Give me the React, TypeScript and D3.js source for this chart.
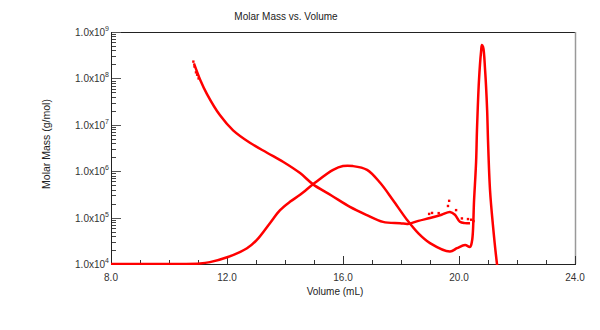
import React from "react";
import * as d3 from "d3";

// Molar mass (light scattering) vs. volume
const mmVolume = [10.86, 11.07, 11.31, 11.76, 12.21, 12.79, 13.38, 13.93, 14.52, 14.97, 15.6, 16.24, 16.8, 17.38, 17.97, 18.24, 18.6, 19.0, 19.4, 19.69, 19.86, 20.03, 20.2, 20.38];
const mmMass = [2.1e8, 9.5e7, 4.6e7, 1.6e7, 7.6e6, 4.1e6, 2.5e6, 1.6e6, 9.1e5, 5.2e5, 3.0e5, 1.7e5, 1.15e5, 8.1e4, 7.6e4, 7.3e4, 8.5e4, 9.8e4, 1.15e5, 1.32e5, 1.15e5, 8.1e4, 7.6e4, 7.6e4];

// scattered outlier points of the molar mass trace
const scatterVolume = [10.84, 10.88, 10.93, 10.97, 11.02, 18.97, 19.07, 19.3, 19.62, 19.66, 19.9, 20.1, 20.31, 20.42, 20.5];
const scatterMass = [2.3e8, 1.8e8, 1.35e8, 1.2e8, 1.0e8, 1.2e5, 1.26e5, 1.25e5, 1.78e5, 2.3e5, 1.45e5, 9.6e4, 9.3e4, 9.0e4, 8.4e4];

// detector trace, drawn on the same axes
const detVolume = [8.0, 10.4, 11.07, 11.41, 12.03, 12.69, 13.03, 13.48, 13.83, 14.17, 14.52, 15.03, 15.66, 16.0, 16.34, 16.83, 17.28, 17.72, 18.21, 18.6, 19.0, 19.69, 19.93, 20.21, 20.38, 20.45, 20.52, 20.59, 20.62, 20.69, 20.76, 20.79, 20.83, 20.9, 20.97, 21.0, 21.07, 21.17, 21.31, 21.4];
const detLog = [4.0, 4.0, 4.01, 4.04, 4.15, 4.34, 4.52, 4.88, 5.16, 5.34, 5.49, 5.75, 6.03, 6.11, 6.11, 6.03, 5.75, 5.38, 4.95, 4.66, 4.45, 4.27, 4.34, 4.41, 4.37, 4.5, 5.38, 6.21, 6.89, 7.97, 8.57, 8.72, 8.68, 8.18, 7.32, 6.67, 5.59, 4.84, 4.0, 3.6];

const xTicks = [8, 12, 16, 20, 24];
const xMinor = [9, 10, 11, 13, 14, 15, 17, 18, 19, 21, 22, 23];
const yDecades = [4, 5, 6, 7, 8, 9];

const W = 600, H = 330;
const L = 111, R = 575, T = 32, B = 264;
const FONT = "'Liberation Sans', Arial, sans-serif";

export default function App() {
  const x = d3.scaleLinear().domain([8, 24]).range([L, R]);
  const y = d3.scaleLog().domain([1e4, 1e9]).range([B, T]);

  const mmLine = d3.line<number>()
    .x((_, i) => x(mmVolume[i]))
    .y((_, i) => y(mmMass[i]))
    .curve(d3.curveCatmullRom.alpha(0.5));
  const detLine = d3.line<number>()
    .x((_, i) => x(detVolume[i]))
    .y((_, i) => y(Math.pow(10, detLog[i])))
    .curve(d3.curveCatmullRom.alpha(0.5));

  const minorY: number[] = [];
  yDecades.slice(0, -1).forEach((d) => {
    for (let k = 2; k <= 9; k++) minorY.push(k * Math.pow(10, d));
  });

  return (
    <svg width={W} height={H} style={{ position: "absolute", left: 0, top: 0, background: "#fff" }}>
      <defs>
        <clipPath id="plot">
          <rect x={L} y={T} width={R - L} height={B - T + 1} />
        </clipPath>
      </defs>
      <text x={286} y={20} fontFamily={FONT} fontSize={10} fill="#222" textAnchor="middle">Molar Mass vs. Volume</text>

      {/* frame */}
      <line x1={L} x2={R} y1={T + 0.5} y2={T + 0.5} stroke="#222" />
      <line x1={R + 0.5} x2={R + 0.5} y1={T} y2={B} stroke="#999" strokeWidth={1.5} />

      {/* x ticks */}
      {xMinor.map((v) => (
        <line key={"xm" + v} x1={x(v) + 0.5} x2={x(v) + 0.5} y1={B} y2={B - 4} stroke="#333" />
      ))}
      {xTicks.map((v) => (
        <g key={"xt" + v}>
          <line x1={x(v) + 0.5} x2={x(v) + 0.5} y1={B} y2={B - 8} stroke="#333" />
          <text x={x(v)} y={281} fontFamily={FONT} fontSize={10} fill="#333" textAnchor="middle">{v.toFixed(1)}</text>
        </g>
      ))}

      {/* y ticks */}
      {minorY.map((m, i) => (
        <line key={"ym" + i} x1={L} x2={L + 5} y1={Math.round(y(m)) + 0.5} y2={Math.round(y(m)) + 0.5} stroke="#444" />
      ))}
      {yDecades.map((d) => (
        <g key={"yt" + d}>
          <line x1={L} x2={L + 10} y1={Math.round(y(Math.pow(10, d))) + 0.5} y2={Math.round(y(Math.pow(10, d))) + 0.5} stroke="#555" />
          <text x={109} y={y(Math.pow(10, d)) + 4} fontFamily={FONT} fontSize={10} fill="#333" textAnchor="end">
            1.0x10<tspan dy={-5} fontSize={7}>{d}</tspan>
          </text>
        </g>
      ))}

      {/* axes */}
      <line x1={L + 0.5} x2={L + 0.5} y1={T} y2={B + 1} stroke="#222" />
      <line x1={L} x2={R + 1} y1={B + 0.5} y2={B + 0.5} stroke="#222" />

      <text x={335} y={295} fontFamily={FONT} fontSize={10} fill="#222" textAnchor="middle">Volume (mL)</text>
      <text transform="translate(50,144) rotate(-90)" fontFamily={FONT} fontSize={10.5} fill="#222" textAnchor="middle">Molar Mass (g/mol)</text>

      <g clipPath="url(#plot)">
        <path d={detLine(detVolume) || ""} fill="none" stroke="#ff0000" strokeWidth={2.5} />
        <path d={mmLine(mmVolume) || ""} fill="none" stroke="#ff0000" strokeWidth={2.5} />
        {scatterVolume.map((v, i) => (
          <rect key={"s" + i} x={x(v) - 1.2} y={y(scatterMass[i]) - 1.2} width={2.4} height={2.4} fill="#ff0000" />
        ))}
      </g>
    </svg>
  );
}
